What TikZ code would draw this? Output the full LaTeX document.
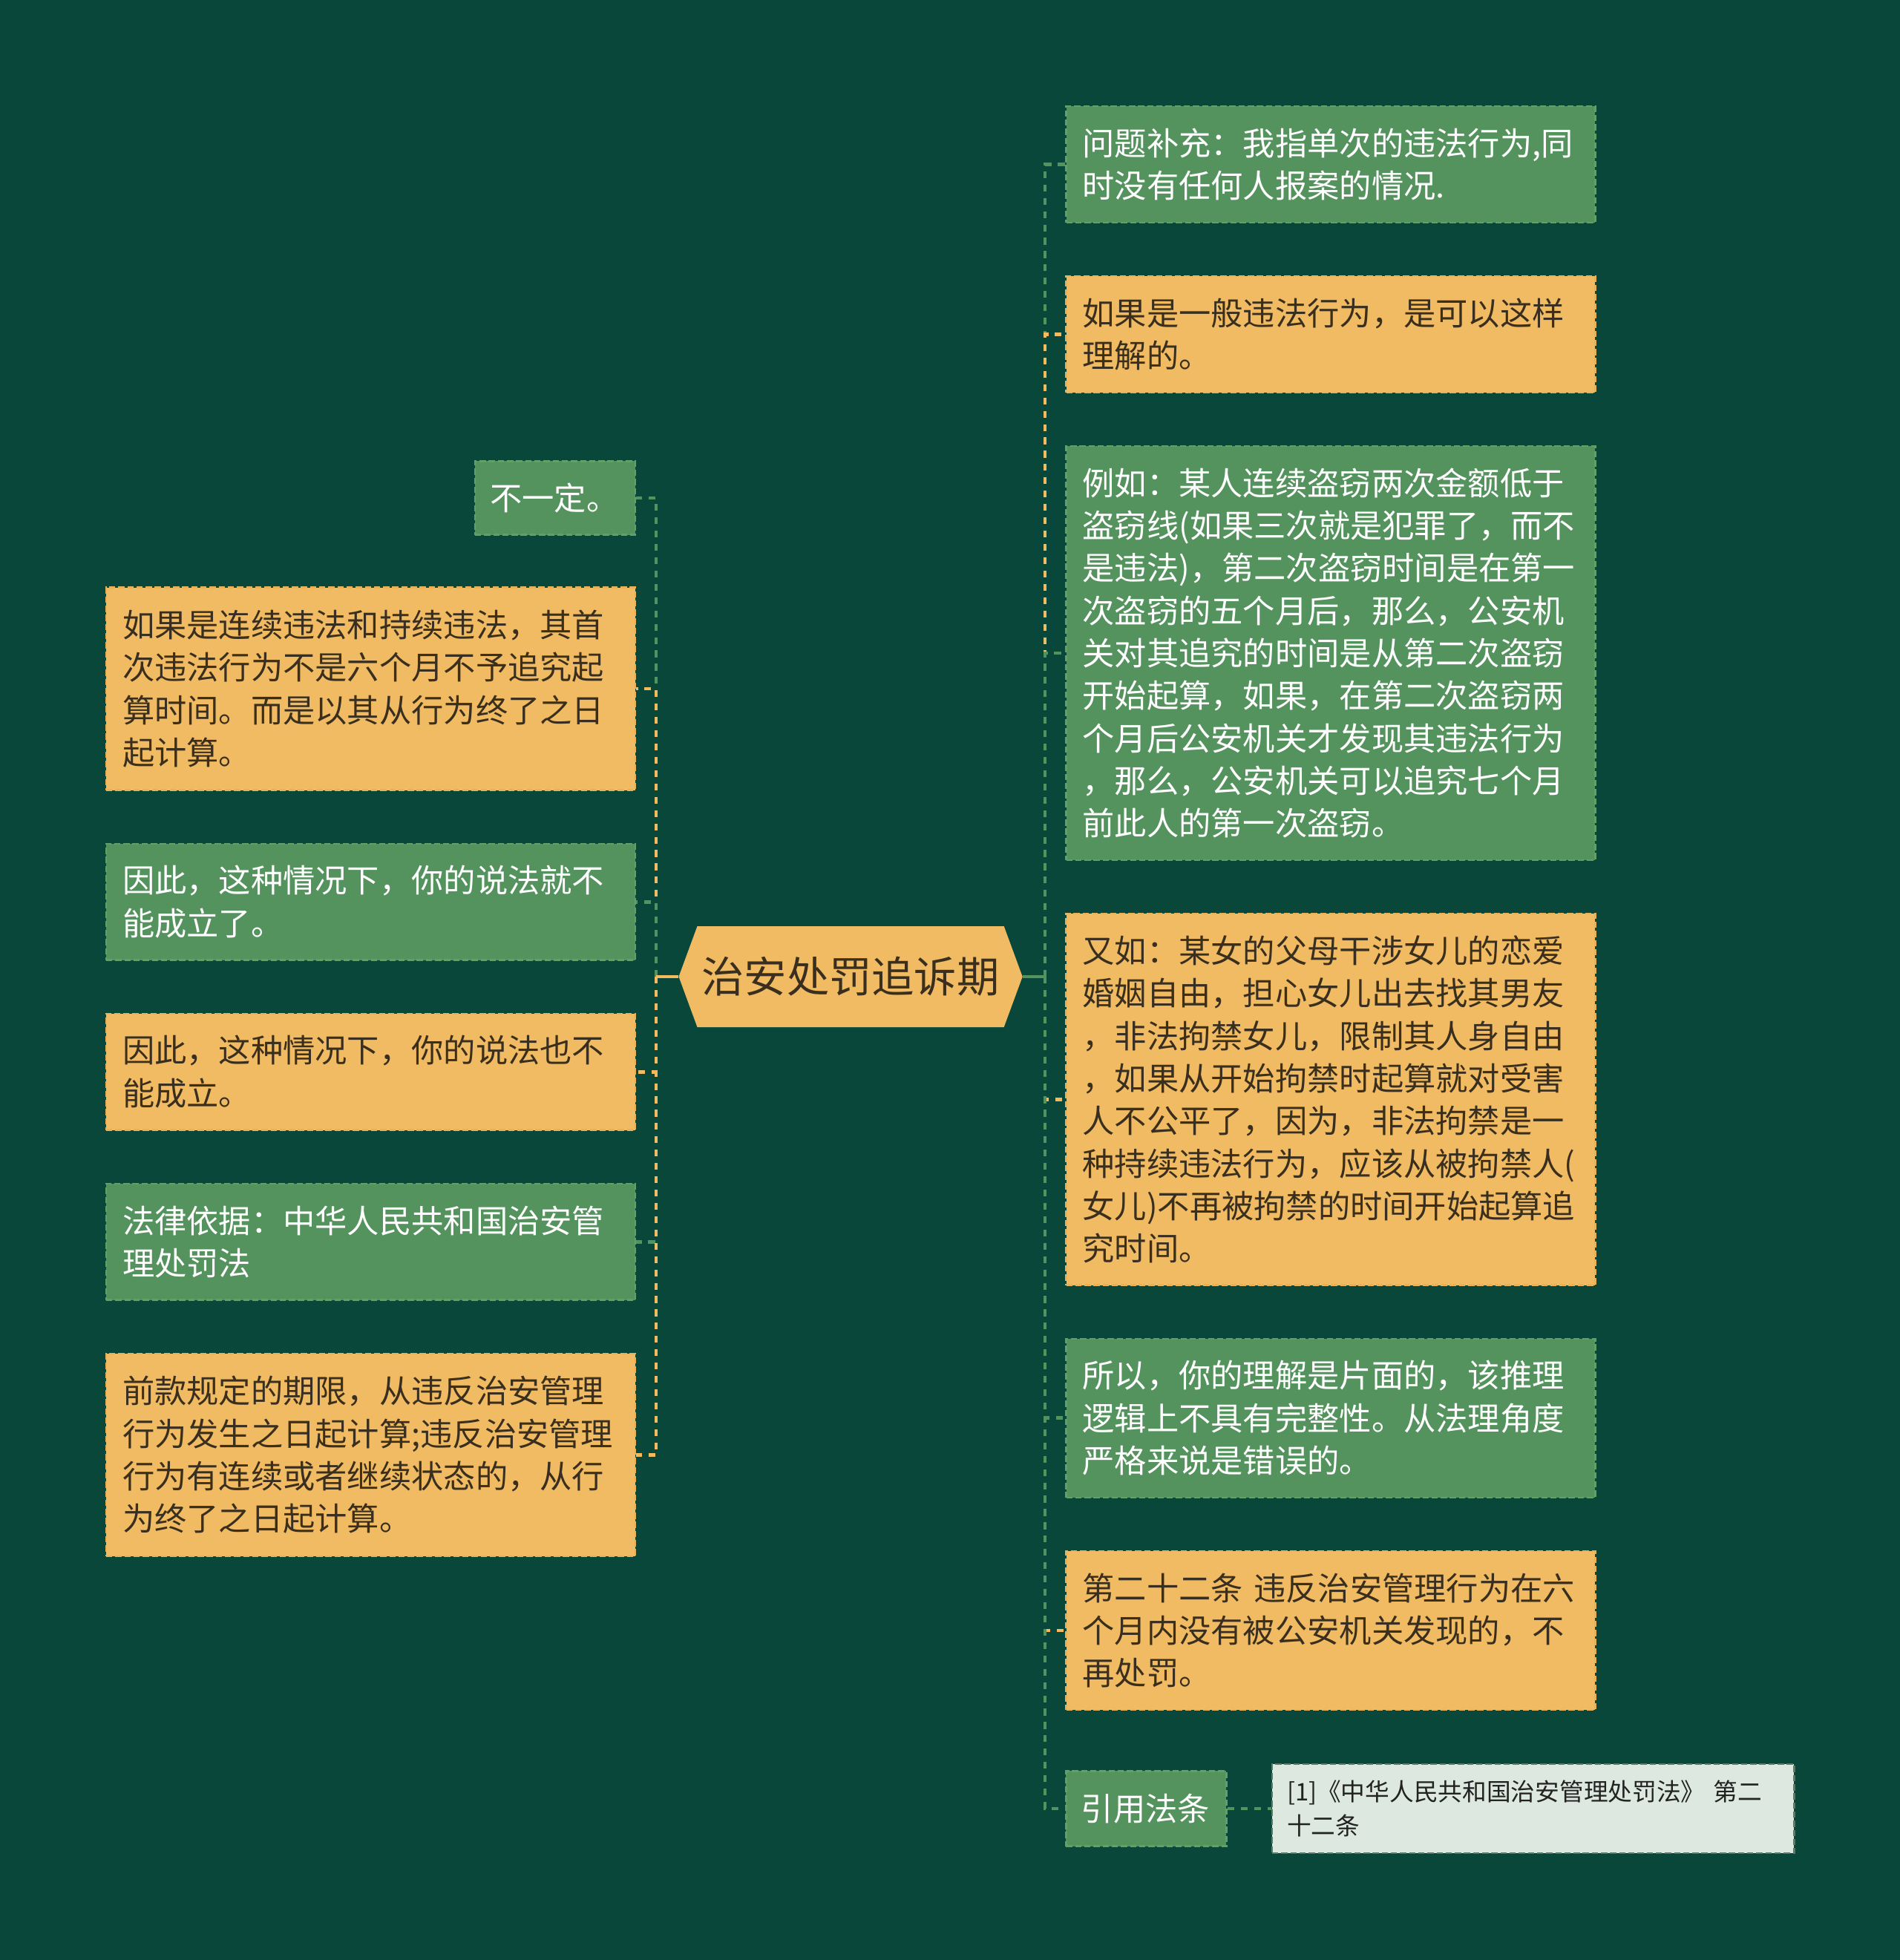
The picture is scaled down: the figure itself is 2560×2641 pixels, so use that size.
\documentclass[tikz,border=0pt]{standalone}
\usepackage{fontspec}
\newfontfamily\cjk{Noto Sans CJK SC}
\definecolor{bg}{HTML}{08473A}
\definecolor{gfill}{HTML}{54935D}
\definecolor{gline}{HTML}{62A06A}
\definecolor{yfill}{HTML}{F0BB62}
\definecolor{yline}{HTML}{E8B25A}
\definecolor{ytext}{HTML}{3A2F1E}
\definecolor{lfill}{HTML}{DDE9E0}
\definecolor{lline}{HTML}{5C7A66}
\definecolor{ltext}{HTML}{222222}
\tikzset{
  box/.style={rectangle, inner xsep=0.22cm, inner ysep=0pt, text width=6.68cm,
    minimum width=7.124cm, align=left, line width=0.7pt, dash pattern=on 2.4pt off 1.1pt,
    font=\cjk\fontsize{12.3pt}{16.3pt}\selectfont},
  gbox/.style={box, fill=gfill, draw=gline, text=white},
  ybox/.style={box, fill=yfill, draw=yline, text=ytext},
  smallbox/.style={text width=1.75cm, inner xsep=0.205cm, minimum width=2.16cm},
  conn/.style={line width=1.4pt, dash pattern=on 2.6pt off 2.5pt},
  gconn/.style={conn, draw=gfill},
  yconn/.style={conn, draw=yfill},
}
\begin{document}
\begin{tikzpicture}[x=0.01cm,y=-0.01cm]
\fill[bg] (0,0) rectangle (2560,2641);
\useasboundingbox (0,0) rectangle (2560,2641);

% center
\fill[yfill] (914.5,1316) -- (939.5,1248) -- (1352.7,1248) -- (1377.7,1316) -- (1352.7,1384) -- (939.5,1384) -- cycle;
\node[minimum width=4.632cm, minimum height=1.36cm, inner sep=0pt, text=ytext,
  font=\cjk\fontsize{16.3pt}{20pt}\selectfont] (c) at (1146,1316) {治安处罚追诉期};

\coordinate (lt) at (884,1316);
\coordinate (rt) at (1408,1316);

% left nodes
\node[gbox, smallbox, minimum height=0.993cm] (l1) at (748,671) {不一定。};
\node[ybox, minimum height=2.728cm] (l2) at (499.4,928) {如果是连续违法和持续违法，其首\\次违法行为不是六个月不予追究起\\算时间。而是以其从行为终了之日\\起计算。};
\node[gbox, minimum height=1.567cm] (l3) at (499.4,1215.2) {因此，这种情况下，你的说法就不\\能成立了。};
\node[ybox, minimum height=1.566cm] (l4) at (499.4,1444.2) {因此，这种情况下，你的说法也不\\能成立。};
\node[gbox, minimum height=1.567cm] (l5) at (499.4,1673.3) {法律依据：中华人民共和国治安管\\理处罚法};
\node[ybox, minimum height=2.728cm] (l6) at (499.4,1960.4) {前款规定的期限，从违反治安管理\\行为发生之日起计算;违反治安管理\\行为有连续或者继续状态的，从行\\为终了之日起计算。};

% right nodes
\node[gbox, minimum height=1.566cm] (r1) at (1792.9,221.5) {问题补充：我指单次的违法行为,同\\时没有任何人报案的情况.};
\node[ybox, minimum height=1.566cm] (r2) at (1792.9,450.5) {如果是一般违法行为，是可以这样\\理解的。};
\node[gbox, minimum height=5.574cm] (r3) at (1792.9,880) {例如：某人连续盗窃两次金额低于\\盗窃线(如果三次就是犯罪了，而不\\是违法)，第二次盗窃时间是在第一\\次盗窃的五个月后，那么，公安机\\关对其追究的时间是从第二次盗窃\\开始起算，如果，在第二次盗窃两\\个月后公安机关才发现其违法行为\\，那么，公安机关可以追究七个月\\前此人的第一次盗窃。};
\node[ybox, minimum height=5.002cm] (r4) at (1792.9,1481.3) {又如：某女的父母干涉女儿的恋爱\\婚姻自由，担心女儿出去找其男友\\，非法拘禁女儿，限制其人身自由\\，如果从开始拘禁时起算就对受害\\人不公平了，因为，非法拘禁是一\\种持续违法行为，应该从被拘禁人(\\女儿)不再被拘禁的时间开始起算追\\究时间。};
\node[gbox, minimum height=2.139cm] (r5) at (1792.9,1910.8) {所以，你的理解是片面的，该推理\\逻辑上不具有完整性。从法理角度\\严格来说是错误的。};
\node[ybox, minimum height=2.139cm] (r6) at (1792.9,2197) {第二十二条 违反治安管理行为在六\\个月内没有被公安机关发现的，不\\再处罚。};
\node[gbox, smallbox, minimum height=1.011cm] (r7) at (1544.4,2437) {引用法条};
\node[box, fill=lfill, draw=lline, text=ltext, text width=6.63cm, inner xsep=0.2cm,
  minimum width=7.023cm, minimum height=1.196cm,
  font=\cjk\fontsize{9.3pt}{12.9pt}\selectfont] (cite) at (2065.7,2437) {[1]《中华人民共和国治安管理处罚法》 第二\\十二条};

% connectors left
\draw[gconn] (lt) |- (l1.east);
\draw[yconn] (lt) |- (l2.east);
\draw[gconn] (lt) |- (l3.east);
\draw[yconn] (lt) |- (l4.east);
\draw[gconn] (lt) |- (l5.east);
\draw[yconn] (lt) |- (l6.east);
\draw[yfill, line width=1.4pt] (c.west) -- (lt);

% connectors right
\draw[gconn] (rt) |- (r1.west);
\draw[yconn] (rt) |- (r2.west);
\draw[gconn] (rt) |- (r3.west);
\draw[yconn] (rt) |- (r4.west);
\draw[gconn] (rt) |- (r5.west);
\draw[yconn] (rt) |- (r6.west);
\draw[gconn] (rt) |- (r7.west);
\draw[gfill, line width=1.4pt] (c.east) -- (rt);

\draw[gconn] (r7.east) -- (r7.east -| cite.west);
\end{tikzpicture}
\end{document}
